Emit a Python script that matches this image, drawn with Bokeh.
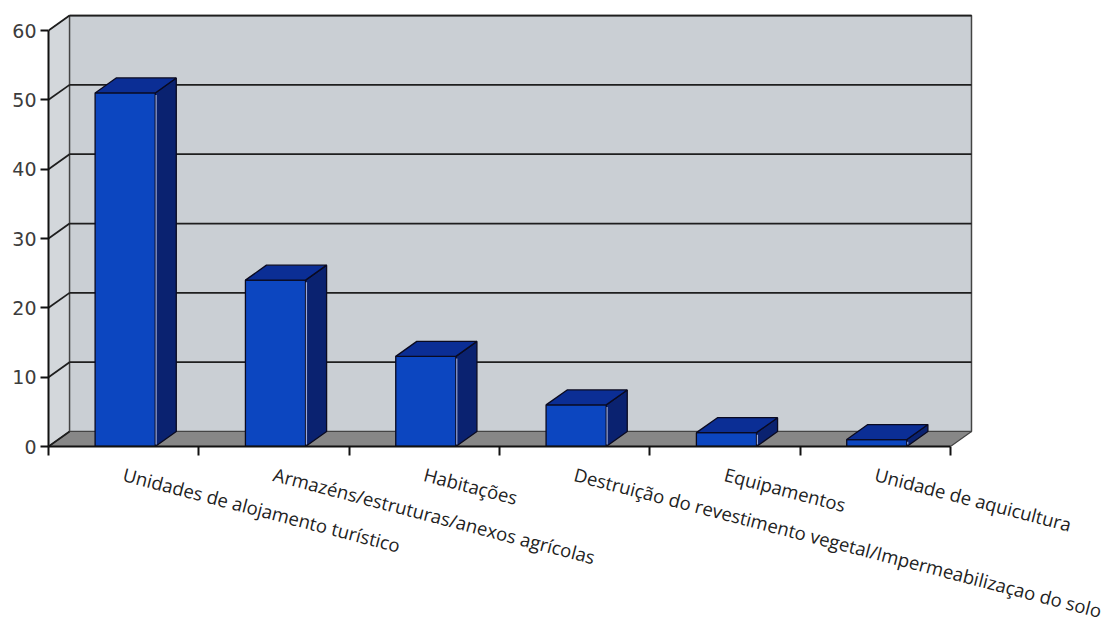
from bokeh.plotting import figure
from bokeh.models import Range1d, LinearAxis, FixedTicker
from bokeh.embed import file_html
from bokeh.resources import INLINE

categories = [
    "Unidades de alojamento turístico",
    "Armazéns/estruturas/anexos agrícolas",
    "Habitações",
    "Destruição do revestimento vegetal/Impermeabilizaçao do solo",
    "Equipamentos",
    "Unidade de aquicultura",
]
values = [51, 24, 13, 6, 2, 1]
y_ticks = [0, 10, 20, 30, 40, 50, 60]

# 3D depth offset (data units) and bar geometry
DX = 0.14
DY = 2.16
BL, BR = -0.19, 0.21

n = len(categories)
centers = list(range(1, n + 1))
x0, x1 = 0.5, n + 0.5
ymax = y_ticks[-1]

p = figure(frame_width=926, frame_height=434,
           x_range=Range1d(x0, x1 + 0.16), y_range=Range1d(0, ymax + 2.6),
           output_backend="svg", toolbar_location=None,
           x_axis_location=None, y_axis_location=None,
           min_border_left=48, min_border_top=12, min_border_right=140,
           background_fill_color="white", border_fill_color="white",
           outline_line_color=None)
p.grid.visible = False

# side wall
p.patch([x0, x0, x0 + DX, x0 + DX], [0, ymax, ymax + DY, DY],
        fill_color="#d3d7db", line_color="#555555", line_width=1)
# back wall
p.patch([x0 + DX, x1 + DX, x1 + DX, x0 + DX], [DY, DY, ymax + DY, ymax + DY],
        fill_color="#cacfd4", line_color="#444444", line_width=1.5)
# floor
p.patch([x0, x1, x1 + DX, x0 + DX], [0, 0, DY, DY],
        fill_color="#878787", line_color="#444444", line_width=1.2)

# gridlines on back wall and side wall
gl = [t for t in y_ticks if t > 0]
p.segment(x0=[x0 + DX] * len(gl), y0=[t + DY for t in gl],
          x1=[x1 + DX] * len(gl), y1=[t + DY for t in gl],
          line_color="#1e1e1e", line_width=1.8)
p.segment(x0=[x0] * len(y_ticks), y0=y_ticks,
          x1=[x0 + DX] * len(y_ticks), y1=[t + DY for t in y_ticks],
          line_color="#1e1e1e", line_width=1.8)

# bars
front_x, front_y, top_x, top_y, side_x, side_y = [], [], [], [], [], []
for c, v in zip(centers, values):
    l, r = c + BL, c + BR
    front_x.append([l, r, r, l]); front_y.append([0, 0, v, v])
    top_x.append([l, r, r + DX, l + DX]); top_y.append([v, v, v + DY, v + DY])
    side_x.append([r, r + DX, r + DX, r]); side_y.append([0, DY, v + DY, v])
p.patches(side_x, side_y, fill_color="#0a2270", line_color="#0a0a20", line_width=1.3)
p.patches(front_x, front_y, fill_color="#0c46c0", line_color="#0a0a20", line_width=1.3)
p.patches(top_x, top_y, fill_color="#0b2e95", line_color="#0a0a20", line_width=1.3)
# light edge on bars
p.segment(x0=[c + BR + 0.006 for c in centers], y0=[0.3] * n,
          x1=[c + BR + 0.006 for c in centers], y1=[v - 0.3 for v in values],
          line_color="#9aa8d8", line_width=1.2)

# axes
yax = LinearAxis(ticker=FixedTicker(ticks=y_ticks), bounds=(0, ymax))
yax.major_tick_out = 8
yax.major_tick_in = 0
yax.major_tick_line_width = 2
yax.major_tick_line_color = "#111111"
yax.axis_line_width = 2
yax.axis_line_color = "#111111"
yax.major_label_text_font = "DejaVu Sans"
yax.major_label_text_font_size = "19px"
yax.major_label_text_color = "#3c3c3c"
yax.major_label_standoff = 4
p.add_layout(yax, "left")

xax = LinearAxis(ticker=FixedTicker(ticks=centers, minor_ticks=[c - 0.5 for c in centers] + [x1]),
                 bounds=(x0, x1))
xax.major_label_overrides = {c: name for c, name in zip(centers, categories)}
xax.major_tick_out = 0
xax.major_tick_in = 0
xax.minor_tick_out = 9
xax.minor_tick_in = 0
xax.minor_tick_line_color = "#111111"
xax.minor_tick_line_width = 2
xax.axis_line_width = 2
xax.axis_line_color = "#111111"
xax.major_label_orientation = -0.255
xax.major_label_standoff = 18
xax.major_label_text_font = "Open Sans"
xax.major_label_text_font_size = "18.5px"
xax.major_label_text_color = "#222222"
p.add_layout(xax, "below")

open("out.html", "w").write(file_html(p, INLINE))
